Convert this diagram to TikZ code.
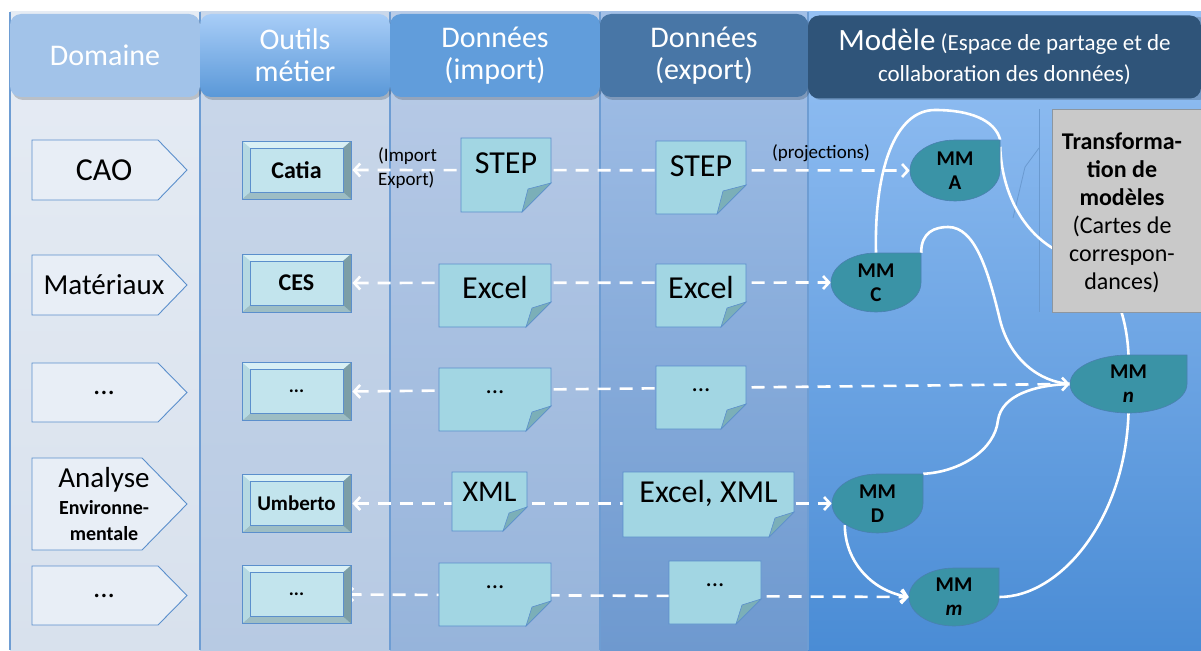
\documentclass[tikz,border=0pt]{standalone}
\usepackage{fontspec}
\setmainfont{Carlito}
\usetikzlibrary{arrows.meta}
\pgfdeclarelayer{bg}
\pgfdeclarelayer{lines}
\pgfsetlayers{bg,lines,main}

\definecolor{domBodyT}{HTML}{E6ECF4}
\definecolor{domBodyB}{HTML}{D8E1ED}
\definecolor{toolBodyT}{HTML}{CBD8EA}
\definecolor{toolBodyB}{HTML}{B7CAE3}
\definecolor{impBodyT}{HTML}{BACCE7}
\definecolor{impBodyB}{HTML}{96B4DB}
\definecolor{expBodyT}{HTML}{A3C0E7}
\definecolor{expBodyB}{HTML}{6E99CF}
\definecolor{modBodyT}{HTML}{95C1F4}
\definecolor{modBodyB}{HTML}{4A8CD5}
\definecolor{colLine}{HTML}{6E9DD3}
\definecolor{domHead}{HTML}{A2C3E9}
\definecolor{toolHeadT}{HTML}{A8CDF7}
\definecolor{toolHeadB}{HTML}{5A98D8}
\definecolor{impHead}{HTML}{619DDB}
\definecolor{expHead}{HTML}{4876A6}
\definecolor{modHead}{HTML}{2F5479}
\definecolor{shapeBorder}{HTML}{5B8FCC}
\definecolor{domFill}{HTML}{E8EEF6}
\definecolor{faceFill}{HTML}{C2E4ED}
\definecolor{bevTop}{HTML}{D9F0F5}
\definecolor{bevLeft}{HTML}{B5D9E2}
\definecolor{bevRight}{HTML}{7C9EA6}
\definecolor{bevBot}{HTML}{9DBDC4}
\definecolor{docFill}{HTML}{A2D6E3}
\definecolor{foldFill}{HTML}{7BAFB8}
\definecolor{mmFill}{HTML}{3A93A6}
\definecolor{mmBorder}{HTML}{4A80B0}
\definecolor{transFill}{HTML}{C9C9C9}
\definecolor{transBorder}{HTML}{8C96A0}
\definecolor{thinLine}{HTML}{6A9AD0}

\tikzset{
  hdr/.style={rounded corners=11pt, inner sep=0pt, minimum height=83pt, text=white, align=center,
    font=\fontsize{30}{32}\selectfont},
  hdrshadow/.style={fill=black, opacity=0.18, rounded corners=11pt},
  domstyle/.style={fill=domFill, draw=shapeBorder, line width=0.9pt},
  domtext/.style={inner sep=0pt, align=center, font=\fontsize{29}{30}\selectfont},
  toolbox/.style={minimum width=109pt, minimum height=58pt, inner sep=0pt, draw=shapeBorder,
    line width=0.9pt, fill=faceFill, font=\bfseries\fontsize{24}{26}\selectfont,
    path picture={
      \path (path picture bounding box.north west) coordinate (tbnw)
            (path picture bounding box.north east) coordinate (tbne)
            (path picture bounding box.south west) coordinate (tbsw)
            (path picture bounding box.south east) coordinate (tbse);
      \fill[bevTop] (tbnw) -- (tbne) -- ([shift={(-8pt,-7pt)}]tbne) -- ([shift={(8pt,-7pt)}]tbnw) -- cycle;
      \fill[bevBot] (tbsw) -- (tbse) -- ([shift={(-8pt,7pt)}]tbse) -- ([shift={(8pt,7pt)}]tbsw) -- cycle;
      \fill[bevLeft] (tbnw) -- ([shift={(8pt,-7pt)}]tbnw) -- ([shift={(8pt,7pt)}]tbsw) -- (tbsw) -- cycle;
      \fill[bevRight] (tbne) -- ([shift={(-8pt,-7pt)}]tbne) -- ([shift={(-8pt,7pt)}]tbse) -- (tbse) -- cycle;
      \draw[shapeBorder, line width=0.6pt] ([shift={(8pt,-7pt)}]tbnw) rectangle ([shift={(-8pt,7pt)}]tbse);
    }},
  docstyle/.style={fill=docFill, draw=shapeBorder, line width=0.9pt},
  foldstyle/.style={fill=foldFill, draw=shapeBorder, line width=0.6pt},
  doctext/.style={inner sep=0pt, font=\fontsize{32}{34}\selectfont},
  mmstyle/.style={fill=mmFill, draw=mmBorder, line width=0.6pt},
  mmtext/.style={inner sep=0pt, align=center, font=\bfseries\fontsize{21}{24}\selectfont},
  dasharrow/.style={draw=white, line width=2.6pt, dash pattern=on 13pt off 9pt,
    {Straight Barb[length=6pt,width=13pt]}-{Straight Barb[length=6pt,width=13pt]}},
  flow/.style={draw=white, line width=2.6pt},
  flowarrow/.style={flow, -{Straight Barb[length=6pt,width=13pt]}},
  smalllabel/.style={inner sep=0pt, font=\fontsize{19}{24}\selectfont},
}

% domain pentagon: name, y1, y2, x of rectangle end, text
\newcommand{\domsig}[5]{%
  \filldraw[domstyle] (32,#2) -- (#4,#2) -- (187,{(#2+#3)/2}) -- (#4,#3) -- (32,#3) -- cycle;
  \node[domtext] (#1) at (104,{(#2+#3)/2}) {#5};
}
% document: name, x1, y1, x2, y2, fold, text y, text
\newcommand{\docshape}[8]{%
  \filldraw[docstyle] (#2,#3) -- (#4,#3) -- (#4,{#5-#6}) -- ({#4-#6},#5) -- (#2,#5) -- cycle;
  \filldraw[foldstyle] (#4,{#5-#6}) -- ({#4-#6},#5) -- ({#4-#6+6},{#5-#6+6}) -- cycle;
  \node[doctext] (#1) at ({(#2+#4)/2},#7) {#8};
}
% MM teardrop: name, x1, y1, x2, y2, text
\newcommand{\mmdrop}[6]{%
  \pgfmathsetmacro\mmcx{(#2+#4)/2}%
  \pgfmathsetmacro\mmcy{(#3+#5)/2}%
  \pgfmathsetmacro\mmrx{(#4-#2)/2}%
  \pgfmathsetmacro\mmry{(#5-#3)/2}%
  \pgfmathsetmacro\mmkx{0.5523*\mmrx}%
  \pgfmathsetmacro\mmky{0.5523*\mmry}%
  \filldraw[mmstyle] (#4,#3) -- (#4,\mmcy) .. controls (#4,\mmcy+\mmky) and (\mmcx+\mmkx,#5) .. (\mmcx,#5)
    .. controls (\mmcx-\mmkx,#5) and (#2,\mmcy+\mmky) .. (#2,\mmcy)
    .. controls (#2,\mmcy-\mmky) and (\mmcx-\mmkx,#3) .. (\mmcx,#3) -- cycle;
  \node[mmtext, minimum width={2*\mmrx pt}, minimum height={2*\mmry pt}] (#1) at (\mmcx,\mmcy) {#6};
}

\begin{document}
\begin{tikzpicture}[x=1pt,y=-1pt]
\useasboundingbox (0,0) rectangle (1201,650);

\begin{pgfonlayer}{bg}
  \fill[white] (0,0) rectangle (1201,650);
  \shade[top color=domBodyT, bottom color=domBodyB] (10,12) rectangle (200,650);
  \shade[top color=toolBodyT, bottom color=toolBodyB] (200,12) rectangle (390,650);
  \shade[top color=impBodyT, bottom color=impBodyB] (390,12) rectangle (600,650);
  \shade[top color=expBodyT, bottom color=expBodyB] (600,12) rectangle (808,650);
  \shade[top color=modBodyT, bottom color=modBodyB] (808,12) rectangle (1201,650);
  \foreach \xx in {10,200,390,600,808} { \draw[colLine, line width=1.2pt] (\xx,12) -- (\xx,650); }
  \draw[thinLine, line width=0.8pt] (1039,109) -- (1039,312);
  \draw[thinLine, line width=0.8pt] (1013,218) -- (1025,167) -- (1039,148);
\end{pgfonlayer}

% headers
\fill[hdrshadow] (12,17) rectangle (202,100);
\fill[hdrshadow] (202,17) rectangle (392,100);
\fill[hdrshadow] (392,17) rectangle (602,100);
\fill[hdrshadow] (602,17) rectangle (810,100);
\fill[hdrshadow] (810,17) rectangle (1210,100);
\node[hdr, fill=domHead, minimum width=190pt] (hdom) at (105,55.5) {Domaine};
\node[hdr, top color=toolHeadT, bottom color=toolHeadB, minimum width=190pt] (htool) at (295,55.5) {Outils\\métier};
\node[hdr, fill=impHead, minimum width=210pt] (himp) at (495,55.5) {Données\\(import)};
\node[hdr, fill=expHead, minimum width=208pt] (hexp) at (704,55.5) {Données\\(export)};
\node[hdr, fill=modHead, minimum width=393pt, font=\fontsize{23}{31}\selectfont] (hmod) at (1004.5,57)
  {{\fontsize{31}{31}\selectfont Modèle} (Espace de partage et de\\collaboration des données)};

% domains
\domsig{dcao}{140}{200}{158}{\fontsize{32}{32}\selectfont CAO}
\domsig{dmat}{255}{315}{158}{Matériaux}
\domsig{ddots}{363}{422}{158}{...}
\domsig{dana}{458}{550}{142}{Analyse\\[-3pt]{\bfseries\fontsize{20}{25}\selectfont Environne-}\\[-4pt]{\bfseries\fontsize{20}{25}\selectfont mentale}}
\domsig{ddotsb}{566}{625}{158}{...}

% tools
\node[toolbox] (catia) at (296.5,170) {Catia};
\node[toolbox] (ces) at (296.5,283) {CES};
\node[toolbox, font=\bfseries\fontsize{19}{20}\selectfont] (tdots) at (296.5,391.5) {...};
\node[toolbox, font=\bfseries\fontsize{21}{22}\selectfont] (umberto) at (296.5,503.5) {Umberto};
\node[toolbox, font=\bfseries\fontsize{19}{20}\selectfont] (tdotsb) at (296.5,594.5) {...};

% documents
\docshape{stepi}{461}{138}{551}{212}{29}{163}{STEP}
\docshape{stepe}{656}{141}{746}{214}{29}{166}{STEP}
\docshape{exceli}{439}{264}{551}{327}{25}{287}{Excel}
\docshape{excele}{656}{264}{746}{327}{25}{287}{Excel}
\docshape{dotsi}{439}{368}{551}{431}{25}{392}{\fontsize{25}{26}\selectfont...}
\docshape{dotse}{656}{366}{746}{429}{25}{390}{\fontsize{25}{26}\selectfont...}
\docshape{xmli}{452}{472}{527}{531}{24}{492}{\fontsize{30}{32}\selectfont XML}
\docshape{exmle}{623}{472}{794}{537}{25}{493}{Excel, XML}
\docshape{dotsib}{439}{563}{551}{626}{25}{587}{\fontsize{25}{26}\selectfont...}
\docshape{dotseb}{669}{561}{761}{624}{25}{585}{\fontsize{25}{26}\selectfont...}

% labels
\node[smalllabel, anchor=west, align=left] (lblie) at (378,168) {(Import\\Export)};
\node[smalllabel] (lblproj) at (821,153) {(projections)};

% MM nodes
\mmdrop{mmA}{910}{140}{1000}{201}{MM\\A}
\mmdrop{mmC}{831}{253}{921}{312}{MM\\C}
\mmdrop{mmN}{1070}{355}{1187}{413}{MM\\\textit{n}}
\mmdrop{mmD}{832}{474}{923}{533}{MM\\D}
\mmdrop{mmM}{909}{568}{999}{626}{MM\\\textit{m}}

% transformation box
\filldraw[fill=transFill, draw=transBorder, line width=0.8pt] (1052,109) rectangle (1206,312);
\node[inner sep=0pt, align=center, font=\fontsize{24}{28}\selectfont] (trans) at (1122,213)
  {\textbf{Transforma-}\\\textbf{tion de}\\\textbf{modèles}\\(Cartes de\\correspon-\\dances)};

% connectors
\begin{pgfonlayer}{lines}
  \draw[dasharrow, shorten <=1pt] (catia.east) -- (mmA.west);
  \draw[dasharrow, shorten <=1pt] (ces.east) -- (mmC.west);
  \draw[dasharrow, shorten <=1pt] (tdots.east) -- (mmN.west);
  \draw[dasharrow, shorten <=1pt] (umberto.east) -- (mmD.west);
  \draw[dasharrow, shorten <=-6pt] (tdotsb.east) -- (mmM.west);

  \draw[flow] (mmC.north) .. controls (874,170) and (895,110) .. (935,110)
     .. controls (970,110) and (995,120) .. (mmA.north east);
  \draw[flow] ([yshift=-7pt]mmA.north east) .. controls (1002,200) and (1030,245) .. (1075,258)
     .. controls (1115,270) and (1127,320) .. (mmN.north);
  \draw[flow] (mmC.north east) .. controls (921,232) and (935,227) .. (948,227)
     .. controls (975,227) and (988,270) .. (1000,320)
     .. controls (1010,360) and (1040,382) .. (mmN.west);
  \draw[flow] (mmD.north east) .. controls (960,472) and (995,450) .. (998,420)
     .. controls (1002,395) and (1035,385) .. (mmN.west);
  \draw[flowarrow] ([shift={(13pt,8pt)}]mmD.south west) .. controls (845,560) and (870,590) .. (mmM.west);
  \draw[flow] (mmM.east) .. controls (1060,597) and (1125,520) .. (mmN.south);
\end{pgfonlayer}
\end{tikzpicture}
\end{document}
